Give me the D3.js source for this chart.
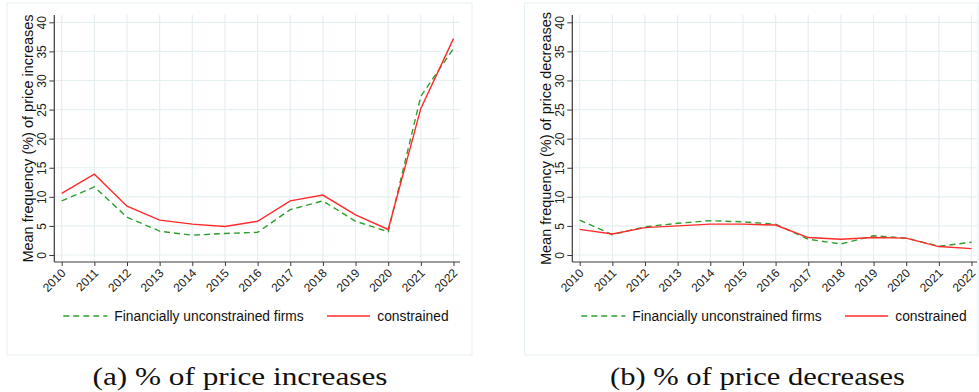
<!DOCTYPE html>
<html>
<head>
<meta charset="utf-8">
<script src="https://cdn.jsdelivr.net/npm/d3@7"></script>
<style>
  html, body { margin: 0; padding: 0; background: #ffffff; }
  svg { display: block; }
</style>
</head>
<body>
<svg id="chart" width="979" height="392"></svg>
<script>
// Years on the x axis
const years = [2010, 2011, 2012, 2013, 2014, 2015, 2016, 2017, 2018, 2019, 2020, 2021, 2022];
const yTicks = [0, 5, 10, 15, 20, 25, 30, 35, 40];

// Panel (a): mean frequency (%) of price increases
const incUnconstrained = [9.3, 11.7, 6.5, 4.1, 3.4, 3.7, 3.9, 7.8, 9.3, 5.8, 4.0, 27.3, 35.5];
const incConstrained   = [10.6, 13.9, 8.4, 6.0, 5.3, 4.9, 5.8, 9.3, 10.3, 6.9, 4.4, 25.2, 37.2];

// Panel (b): mean frequency (%) of price decreases
const decUnconstrained = [6.0, 3.5, 4.85, 5.45, 5.9, 5.7, 5.3, 2.7, 1.9, 3.3, 2.9, 1.5, 2.2];
const decConstrained   = [4.4, 3.6, 4.7, 5.0, 5.3, 5.3, 5.15, 3.0, 2.7, 3.0, 2.9, 1.45, 1.1];

const seriesNames = ["Financially unconstrained firms", "constrained"];
const captions = ["(a) % of price increases", "(b) % of price decreases"];
const yTitles = ["Mean frequency (%) of price increases", "Mean frequency (%) of price decreases"];

const GREEN = "#2f9e2f";
const RED = "#ff2b2b";
const GRID = "#e6eff1";
const AXIS = "#3a3a3a";
const SANS = "'Liberation Sans', Arial, sans-serif";
const SERIF = "'Liberation Serif', 'Times New Roman', serif";

const svg = d3.select("#chart");

function drawPanel(opts) {
  const { axisX, rightEnd, frame, unconstrained, constrained, yTitle, caption, captionX } = opts;
  const top = 15, bottom = 262;

  const x = d3.scaleLinear().domain([2010, 2022]).range([axisX + 7.4, axisX + 399.2]);
  const y = d3.scaleLinear().domain([0, 40]).range([255, 22.3]);

  const g = svg.append("g");

  // outer frame
  g.append("rect")
    .attr("x", frame.x).attr("y", frame.y)
    .attr("width", frame.w).attr("height", frame.h)
    .attr("fill", "none").attr("stroke", GRID).attr("stroke-width", 1);

  // grid lines
  g.append("g").selectAll("line.h").data(yTicks).join("line")
    .attr("x1", axisX).attr("x2", rightEnd)
    .attr("y1", d => y(d)).attr("y2", d => y(d))
    .attr("stroke", GRID).attr("stroke-width", 1.2);
  g.append("g").selectAll("line.v").data(years).join("line")
    .attr("x1", d => x(d)).attr("x2", d => x(d))
    .attr("y1", top).attr("y2", bottom)
    .attr("stroke", GRID).attr("stroke-width", 1.2);

  // y axis
  const yAxis = d3.axisLeft(y).tickValues(yTicks).tickSize(5).tickPadding(0).tickFormat(d3.format("d"));
  const ya = g.append("g").attr("transform", `translate(${axisX},0)`).call(yAxis);
  ya.select(".domain").attr("d", `M0,${top}V${bottom}`).attr("stroke", AXIS).attr("stroke-width", 1.2);
  ya.selectAll(".tick line").attr("stroke", AXIS).attr("stroke-width", 1);
  ya.selectAll(".tick text")
    .attr("x", null).attr("dy", null)
    .attr("transform", "translate(-8.8,0) rotate(-90)")
    .attr("text-anchor", "middle")
    .attr("font-family", SANS).attr("font-size", 12).attr("fill", "#222");

  // x axis
  const xAxis = d3.axisBottom(x).tickValues(years).tickSize(4).tickPadding(0).tickFormat(d3.format("d"));
  const xa = g.append("g").attr("transform", `translate(0,${bottom})`).call(xAxis);
  xa.select(".domain").attr("d", `M${axisX},0H${rightEnd}`).attr("stroke", AXIS).attr("stroke-width", 1.2);
  xa.selectAll(".tick line").attr("stroke", AXIS).attr("stroke-width", 1);
  xa.selectAll(".tick text")
    .attr("y", null).attr("dy", null)
    .attr("transform", "translate(1.5,9) rotate(-45)")
    .attr("text-anchor", "end")
    .attr("dominant-baseline", "central")
    .attr("font-family", SANS).attr("font-size", 12).attr("fill", "#222");
  ya.attr("font-family", null);
  xa.attr("font-family", null);

  // y title
  g.append("text")
    .attr("transform", `translate(${axisX - 21},${(top + bottom) / 2 + 0}) rotate(-90)`)
    .attr("text-anchor", "middle")
    .attr("font-family", SANS).attr("font-size", 14.5).attr("fill", "#111")
    .text(yTitle);

  // series lines
  const line = d3.line().x((d, i) => x(years[i])).y(d => y(d));
  g.append("path").datum(unconstrained)
    .attr("d", line).attr("fill", "none")
    .attr("stroke", GREEN).attr("stroke-width", 1.4)
    .attr("stroke-dasharray", "6,4");
  g.append("path").datum(constrained)
    .attr("d", line).attr("fill", "none")
    .attr("stroke", RED).attr("stroke-width", 1.4);

  // legend
  const ly = 316;
  const lg = g.append("g");
  lg.append("line").attr("x1", axisX + 9).attr("x2", axisX + 53).attr("y1", ly).attr("y2", ly)
    .attr("stroke", GREEN).attr("stroke-width", 1.4).attr("stroke-dasharray", "6,4");
  lg.append("text").attr("x", axisX + 60).attr("y", ly + 4.8)
    .attr("font-family", SANS).attr("font-size", 13.8).attr("fill", "#111")
    .text(seriesNames[0]);
  lg.append("line").attr("x1", axisX + 272.7).attr("x2", axisX + 315.7).attr("y1", ly).attr("y2", ly)
    .attr("stroke", RED).attr("stroke-width", 1.4);
  lg.append("text").attr("x", axisX + 323).attr("y", ly + 4.8)
    .attr("font-family", SANS).attr("font-size", 13.8).attr("fill", "#111")
    .text(seriesNames[1]);

  // caption
  svg.append("text")
    .attr("x", captionX).attr("y", 385)
    .attr("text-anchor", "middle")
    .attr("font-family", SERIF).attr("font-size", 25).attr("fill", "#111")
    .attr("textLength", 295).attr("lengthAdjust", "spacingAndGlyphs")
    .text(caption);
}

drawPanel({
  axisX: 54.3, rightEnd: 460,
  frame: { x: 7, y: 3, w: 465, h: 352 },
  unconstrained: incUnconstrained, constrained: incConstrained,
  yTitle: yTitles[0], caption: captions[0], captionX: 240
});

drawPanel({
  axisX: 572.3, rightEnd: 977,
  frame: { x: 524.5, y: 3, w: 453.5, h: 352 },
  unconstrained: decUnconstrained, constrained: decConstrained,
  yTitle: yTitles[1], caption: captions[1], captionX: 757.5
});
</script>
</body>
</html>
